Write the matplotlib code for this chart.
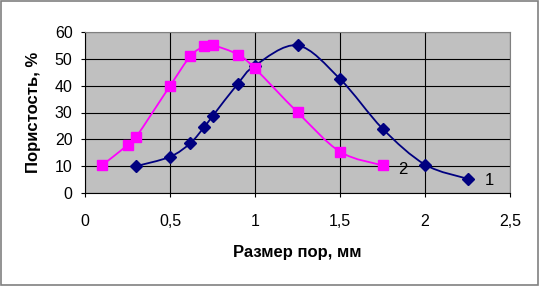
"""Porosity vs pore size, two samples, Excel-style smoothed lines."""
import matplotlib
matplotlib.use("Agg")
import matplotlib.pyplot as plt
from matplotlib.path import Path
from matplotlib.patches import PathPatch, Rectangle
import numpy as np

plt.rcParams["font.family"] = ["Liberation Sans", "DejaVu Sans"]

# ── data ──
size_1 = [0.3, 0.5, 0.62, 0.7, 0.75, 0.9, 1.0, 1.25, 1.5, 1.75, 2.0, 2.25]
poro_1 = [10.0, 13.5, 18.6, 24.5, 28.6, 40.8, 47.5, 55.0, 42.5, 24.0, 10.6, 5.3]
size_2 = [0.1, 0.25, 0.3, 0.5, 0.62, 0.7, 0.75, 0.9, 1.0, 1.25, 1.5, 1.75]
poro_2 = [10.3, 17.8, 20.8, 39.9, 51.0, 54.6, 55.1, 51.6, 46.4, 30.1, 15.4, 10.3]
x_ticks = [0, 0.5, 1, 1.5, 2, 2.5]
x_tick_labels = ["0", "0,5", "1", "1,5", "2", "2,5"]
y_ticks = [0, 10, 20, 30, 40, 50, 60]


def smooth_path(xs, ys, k=1 / 6):
    """Catmull-Rom style cubic Bezier through the points (like Excel 'smoothed line')."""
    p = np.column_stack([xs, ys])
    verts, codes = [tuple(p[0])], [Path.MOVETO]
    for i in range(len(p) - 1):
        p0 = p[i - 1] if i > 0 else p[i]
        p3 = p[i + 2] if i + 2 < len(p) else p[i + 1]
        c1 = p[i] + (p[i + 1] - p0) * k
        c2 = p[i + 1] - (p3 - p[i]) * k
        verts += [tuple(c1), tuple(c2), tuple(p[i + 1])]
        codes += [Path.CURVE4] * 3
    return Path(verts, codes)


fig = plt.figure(figsize=(5.39, 2.86), dpi=100)
fig.patch.set_facecolor("white")
fig.add_artist(Rectangle((0.001, 0.002), 0.997, 0.995, transform=fig.transFigure,
                         fill=False, ec="#808080", lw=1.2))
ax = fig.add_axes([85 / 539, 1 - 193 / 286, 425 / 539, 161 / 286])
ax.set_facecolor("#C0C0C0")

ax.add_patch(PathPatch(smooth_path(size_1, poro_1), fill=False, ec="#000080", lw=1.3, zorder=3))
ax.plot(size_1, poro_1, ls="none", marker="D", ms=6, color="#000080", zorder=4)
ax.add_patch(PathPatch(smooth_path(size_2, poro_2), fill=False, ec="#FF00FF", lw=1.3, zorder=3))
ax.plot(size_2, poro_2, ls="none", marker="s", ms=6.5, color="#FF00FF", zorder=4)

ax.text(size_1[-1] + 0.13, poro_1[-1] - 0.5, "1", fontsize=12, va="center", ha="center")
ax.text(size_2[-1] + 0.12, poro_2[-1] - 1.5, "2", fontsize=12, va="center", ha="center")

ax.set_xlim(0, 2.5)
ax.set_ylim(0, 60)
ax.set_xticks(x_ticks)
ax.set_xticklabels(x_tick_labels)
ax.set_yticks(y_ticks)
ax.grid(True, color="black", lw=0.8)
ax.set_axisbelow(True)
ax.tick_params(labelsize=11.5, length=3, width=0.8, color="black")
ax.tick_params(axis="x", pad=12)
ax.tick_params(axis="y", pad=6)
for side in ("top", "right"):
    ax.spines[side].set_color("#808080")
for side in ("left", "bottom"):
    ax.spines[side].set_color("black")

ax.set_xlabel("Размер пор, мм", fontsize=12, fontweight="bold", labelpad=12)
ax.set_ylabel("Пористость, %", fontsize=12, fontweight="bold", labelpad=10)

plt.savefig("out.png", dpi=100)
plt.close()
